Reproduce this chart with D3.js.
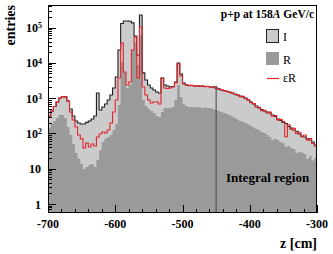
<!DOCTYPE html>
<html><head><meta charset="utf-8">
<script src="https://cdn.jsdelivr.net/npm/d3@7"></script>
<style>html,body{margin:0;padding:0;background:#fff;} svg{display:block;}</style>
</head><body>
<svg id="c" width="333" height="254"></svg>
<script>
// histogram binning: 4 cm bins from -700 to -300 cm
const binStart = -700, binWidth = 4;
// I : total (light gray, black outline)
const I_vals = [310,430,580,776,1010,1100,1080,830,490,310,
  225,197,185,185,205,225,256,310,1390,460,
  560,681,884,1220,1930,3960,23000,130000,153000,153000,
  150000,135000,57000,16600,226000,5200,3260,2350,1930,1700,
  1490,1390,3710,2350,2200,2060,2130,2860,9900,4800,
  2680,2350,2300,2280,2200,2200,2200,2180,2130,2130,
  2060,2060,1930,1820,1700,1650,1540,1490,1390,1310,
  1220,1150,1080,1010,884,776,681,598,525,475,
  430,404,378,332,300,256,232,203,190,158,
  142,125,115,96,84,79,70,65,57,47];
// R : (dark gray)
const R_vals = [142,185,225,273,332,332,273,152,90,50,
  28,19,13.6,9.8,11.2,12.7,13.6,11.2,18,34,
  57,70,79,90,125,185,638,10500,5500,1930,
  2350,23000,39000,8660,60000,884,598,490,430,378,
  310,292,404,525,525,525,560,884,2350,1080,
  681,598,560,560,540,560,540,525,540,525,
  525,490,460,430,404,378,355,332,300,273,
  248,225,210,197,180,162,147,133,125,110,
  103,90,79,65,70,65,57,53,42,44,
  39,36,28,30,29,26,19,23,17,20];
// eps*R : (red line)
const E_vals = [310,430,580,776,1010,1100,1080,830,404,240,
  152,90,70,39,53,41,50,44,79,96,
  110,103,125,197,404,884,3710,36000,5490,2350,
  2860,23000,54000,3710,103000,2060,1220,884,727,776,
  776,681,3710,1930,1870,1930,2060,2680,9250,4230,
  2500,2400,2250,2300,2180,2250,2150,2200,2100,2150,
  2020,2080,1950,1780,1750,1600,1580,1450,1420,1270,
  1250,1100,1120,960,900,740,700,560,545,440,
  450,380,400,310,320,240,250,215,80,175,
  130,140,100,108,80,90,65,72,52,44];
const xTickLabels = ["-700","-600","-500","-400","-300"];
const yTickExps = [0,1,2,3,4,5];
const boundaryZ = -450;

const L=48, Rr=317, T=5, B=213;
const x = d3.scaleLinear().domain([-700,-300]).range([L,Rr]);
const y = d3.scaleLog().domain([0.556,4.34e5]).range([B,T]);
const svg = d3.select("#c");
const serif = "'Liberation Serif','DejaVu Serif',serif";

function stepPts(vals){
  const pts = vals.map((v,i)=>[binStart+i*binWidth, v]);
  pts.push([binStart+vals.length*binWidth, vals[vals.length-1]]);
  return pts;
}
svg.append("defs").append("clipPath").attr("id","clip")
  .append("rect").attr("x",L).attr("y",T).attr("width",Rr-L).attr("height",B-T);
const area = d3.area().x(d=>x(d[0])).y0(B).y1(d=>y(d[1])).curve(d3.curveStepAfter);
const line = d3.line().x(d=>x(d[0])).y(d=>y(d[1])).curve(d3.curveStepAfter);
const g = svg.append("g").attr("clip-path","url(#clip)");
g.append("path").attr("d",area(stepPts(I_vals))).attr("fill","#cbcbcb");
g.append("path").attr("d",area(stepPts(R_vals))).attr("fill","#9a9a9a");
g.append("path").attr("d",line(stepPts(I_vals))).attr("fill","none").attr("stroke","#222").attr("stroke-width",1.1);
g.append("path").attr("d",line(stepPts(E_vals))).attr("fill","none").attr("stroke","#e3262b").attr("stroke-width",1.1);
// integral boundary
g.append("line").attr("x1",x(boundaryZ)).attr("x2",x(boundaryZ)).attr("y1",y(2300)).attr("y2",B)
  .attr("stroke","#444").attr("stroke-width",1);

// frame
svg.append("rect").attr("x",L+0.5).attr("y",T+0.5).attr("width",Rr-L-1).attr("height",B-T-1)
  .attr("fill","none").attr("stroke","#000").attr("stroke-width",1);

// y ticks
const yt = y.ticks();
yt.forEach(v=>{
  const lg = Math.log10(v);
  const major = Math.abs(lg-Math.round(lg))<1e-6;
  const yy = Math.round(y(v))+0.5;
  svg.append("line").attr("x1",L).attr("x2",L+(major?8:4)).attr("y1",yy).attr("y2",yy)
    .attr("stroke","#000").attr("stroke-width",1);
});
yTickExps.forEach(k=>{
  const t = svg.append("text").attr("y",y(Math.pow(10,k))).attr("dy","0.38em")
    .attr("text-anchor","end").attr("font-family",serif).attr("font-weight","bold").attr("font-size",12);
  if(k===0){ t.attr("x",41).text("1"); }
  else if(k===1){ t.attr("x",41).text("10"); }
  else { t.attr("x",42).text("10"); t.append("tspan").attr("dy","-0.45em").attr("font-size",8).text(String(k)); }
});
// x ticks
x.ticks(20).forEach(v=>{
  const major = v%100===0;
  const xx = Math.round(x(v))+0.5;
  svg.append("line").attr("x1",xx).attr("x2",xx).attr("y1",B).attr("y2",B-(major?8:4))
    .attr("stroke","#000").attr("stroke-width",1);
});
xTickLabels.forEach(s=>{
  svg.append("text").attr("x",x(+s)).attr("y",228).attr("text-anchor","middle")
    .attr("font-family",serif).attr("font-weight","bold").attr("font-size",12).text(s);
});
// axis titles
svg.append("text").attr("transform","translate(15,5) rotate(-90)").attr("text-anchor","end")
  .attr("font-family",serif).attr("font-weight","bold").attr("font-size",14).text("entries");
svg.append("text").attr("x",317).attr("y",248).attr("text-anchor","end")
  .attr("font-family",serif).attr("font-weight","bold").attr("font-size",14).text("z [cm]");
// header
const h = svg.append("text").attr("x",314).attr("y",18).attr("text-anchor","end")
  .attr("font-family",serif).attr("font-weight","bold").attr("font-size",11.5);
h.append("tspan").text("p+p at 158");
h.append("tspan").attr("font-style","italic").text("A");
h.append("tspan").text(" GeV/c");
// integral region label
svg.append("text").attr("x",226).attr("y",182)
  .attr("font-family",serif).attr("font-weight","bold").attr("font-size",13).text("Integral region");
// legend
svg.append("rect").attr("x",266.5).attr("y",29.5).attr("width",12).attr("height",13)
  .attr("fill","#cbcbcb").attr("stroke","#222").attr("stroke-width",1);
svg.append("rect").attr("x",266).attr("y",52).attr("width",13).attr("height",13).attr("fill","#9a9a9a");
svg.append("line").attr("x1",267).attr("x2",279).attr("y1",78.5).attr("y2",78.5)
  .attr("stroke","#e3262b").attr("stroke-width",1.2);
[["I",41],["R",64],["εR",82]].forEach(([s,yy])=>{
  svg.append("text").attr("x",283).attr("y",yy).attr("font-family",serif).attr("font-size",12).text(s);
});
</script>
</body></html>
